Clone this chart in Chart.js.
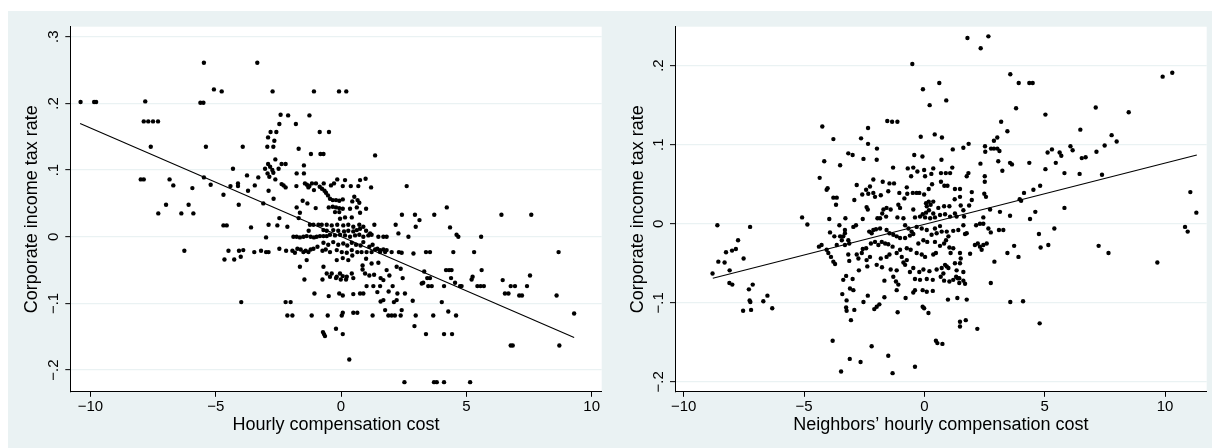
<!DOCTYPE html>
<html><head><meta charset="utf-8">
<script src="https://cdn.jsdelivr.net/npm/chart.js@4.4.1/dist/chart.umd.min.js"></script>
<style>
html,body{margin:0;padding:0;background:#fff;}
#wrap{position:relative;width:1212px;height:448px;overflow:hidden;}
#bg{position:absolute;left:8px;top:11px;width:1204px;height:437px;background:#EAF2F3;}
canvas{position:absolute;top:0;}
#c1{left:0}
#c2{left:606px}
</style></head><body>
<div id="wrap"><div id="bg"></div>
<canvas id="c1" width="606" height="448"></canvas>
<canvas id="c2" width="606" height="448"></canvas>
</div>
<script>
// ---------- Left panel: own hourly compensation cost vs corporate income tax rate ----------
const leftCost = [-5.47,-3.34,-5.07,-4.76,-2.73,-1.08,-10.39,-9.85,-9.77,-7.81,
-5.61,-5.49,-7.87,-7.69,-7.50,-7.30,-2.41,-2.11,-1.80,-1.26,
-2.46,-2.81,-2.58,-0.85,-0.48,-2.91,-2.66,-5.39,-7.59,-3.92,
-2.94,-2.70,-1.69,-1.20,-0.82,-0.70,-2.62,-2.91,-2.37,-2.21,
-4.31,-3.03,-2.83,-2.74,-2.49,-1.48,-1.77,-1.48,-2.93,-2.86,
-3.75,-3.30,-2.70,-7.99,-7.87,-6.84,-5.47,-2.62,-6.69,-5.93,
-5.20,-4.41,-4.11,-4.11,-3.44,-3.71,-4.69,-2.37,-2.29,-2.21,
-2.89,-2.69,-1.78,-1.44,-1.36,-1.26,-1.16,-1.00,-1.30,-0.69,
-0.85,-0.76,-0.66,-0.60,-0.52,-1.08,-1.01,-1.53,-1.34,-1.77,
-1.64,-3.10,-4.08,-6.98,-6.08,-7.29,-6.37,-5.89,-0.49,-1.69,
-2.46,-4.69,-4.56,-3.59,-2.89,-2.54,-2.14,-1.24,-1.10,-0.90,
-0.77,-0.57,-1.29,-0.70,-0.57,-2.99,-1.90,-1.77,-1.64,-1.50,
-1.37,-1.21,-1.08,-0.97,-0.84,-0.70,-0.57,-6.25,-4.49,-4.07,
-3.90,-3.46,-3.19,-2.99,-2.89,-2.46,-2.19,-1.94,-1.84,-1.74,
-1.61,-1.50,-1.41,-1.30,-1.21,-1.10,-0.94,-0.74,-0.61,-4.65,
-4.26,-4.00,-1.37,-1.64,-0.70,-0.57,-1.46,-0.74,-1.06,-0.49,
-3.98,-2.21,-2.01,-2.14,-1.94,-1.17,-0.53,-0.72,-0.68,-0.64,
-0.08,0.21,1.36,2.62,4.22,-0.15,0.16,0.76,0.98,-0.40,
-0.28,0.07,0.39,0.69,1.20,-0.44,-0.33,-0.20,-0.07,0.07,
0.53,0.45,0.66,0.73,-0.33,-0.20,-0.07,0.07,0.36,0.63,
0.76,1.00,-0.24,-0.07,2.43,2.95,3.72,6.40,7.59,-0.04,
0.16,0.43,-0.37,-0.15,0.09,0.29,0.49,0.73,0.89,1.33,
2.18,-0.31,-0.11,0.12,0.29,0.49,0.63,0.76,1.00,1.16,
-0.44,-0.24,-0.04,0.16,0.36,0.56,0.73,0.89,1.09,1.22,
1.49,1.69,1.82,2.29,2.69,3.13,2.98,4.35,4.61,4.68,
5.59,-0.70,-0.51,-0.31,-0.11,0.09,0.25,0.43,0.60,0.78,
0.89,1.13,1.26,1.45,1.56,1.69,1.82,2.02,-0.44,-0.17,
0.03,0.23,0.43,0.65,0.82,1.02,1.22,1.36,1.56,1.76,
2.31,2.42,2.89,3.39,3.55,4.48,5.31,8.68,-0.17,0.07,
0.29,0.45,0.86,1.00,1.22,1.49,-0.37,-0.17,-0.04,0.07,
0.23,0.43,0.86,0.96,1.13,1.32,-0.44,-0.20,-0.01,0.20,
0.49,1.82,1.93,1.58,1.69,2.22,2.38,2.46,1.02,1.29,
1.56,2.06,3.32,3.44,3.55,3.22,3.28,3.48,3.62,4.19,
4.31,4.41,4.39,4.55,4.75,4.81,4.11,5.25,5.21,5.61,
5.44,5.57,5.70,6.45,6.77,6.94,7.42,7.54,6.54,6.68,
7.11,7.22,8.60,-0.07,0.07,0.49,0.76,0.89,1.45,1.58,
1.69,1.90,2.11,2.22,2.25,2.55,2.86,4.02,1.76,1.89,
2.02,2.15,2.38,2.42,0.03,0.07,0.49,0.65,1.26,2.98,
3.68,4.28,4.59,9.30,-0.20,0.07,2.93,3.39,4.11,4.43,
6.77,6.85,8.71,0.33,2.53,3.71,3.82,4.11,5.15];
const leftTax = [0.261,0.261,0.221,0.218,0.218,0.218,0.202,0.202,0.202,0.203,
0.201,0.201,0.173,0.173,0.173,0.173,0.183,0.182,0.169,0.182,
0.169,0.157,0.157,0.157,0.157,0.149,0.144,0.135,0.135,0.135,
0.135,0.135,0.132,0.124,0.124,0.124,0.116,0.109,0.109,0.109,
0.102,0.102,0.105,0.100,0.102,0.107,0.095,0.095,0.095,0.090,
0.092,0.089,0.096,0.086,0.086,0.086,0.089,0.086,0.077,0.073,
0.078,0.076,0.080,0.076,0.077,0.069,0.063,0.079,0.077,0.074,
0.069,0.057,0.076,0.080,0.078,0.076,0.080,0.080,0.074,0.080,
0.075,0.072,0.069,0.066,0.062,0.070,0.043,0.054,0.050,0.044,
0.036,0.050,0.048,0.048,0.048,0.035,0.035,0.035,0.044,0.028,
0.028,0.017,0.017,0.014,0.018,0.017,0.015,0.018,0.018,0.018,
0.018,0.018,0.009,0.010,0.009,-0.001,0,0,-0.001,0,
0.001,0,-0.001,0,0.001,0.001,0.001,-0.021,-0.021,-0.021,
-0.020,-0.023,-0.021,-0.023,-0.023,-0.018,-0.021,-0.021,-0.024,-0.018,
-0.019,-0.023,-0.021,-0.023,-0.019,-0.018,-0.015,-0.021,-0.019,-0.034,
-0.034,-0.030,-0.035,-0.045,-0.045,-0.055,-0.064,-0.064,-0.085,-0.089,
-0.098,-0.098,-0.098,-0.118,-0.118,-0.118,-0.118,-0.143,-0.146,-0.149,
0.218,0.218,0.122,0.076,0.044,0.086,0.085,0.085,0.087,0.077,
0.080,0.076,0.076,0.076,0.074,0.057,0.055,0.055,0.054,0.056,
0.060,0.053,0.055,0.051,0.045,0.044,0.043,0.042,0.042,0.044,
0.036,0.042,0.037,0.037,0.033,0.033,0.033,0.033,0.033,0.027,
0.029,0.029,0.017,0.018,0.017,0.018,0.015,0.018,0.015,0.018,
0.018,0.010,0.009,0.008,0.009,0.008,0.010,0.012,0.009,0.005,
0.003,0.002,0.003,0.002,0,0.002,0.003,0,0.002,0.003,
0,0,0,0.005,0,0.025,0.015,0.014,0.003,0,
0,-0.009,-0.012,-0.008,-0.012,-0.010,-0.013,-0.009,-0.012,-0.013,
-0.008,-0.015,-0.012,-0.018,-0.020,-0.019,-0.020,-0.023,-0.023,-0.020,
-0.023,-0.024,-0.020,-0.023,-0.023,-0.023,-0.023,-0.019,-0.023,-0.023,
-0.023,-0.024,-0.025,-0.023,-0.023,-0.023,-0.023,-0.023,-0.035,-0.032,
-0.035,-0.028,-0.043,-0.033,-0.040,-0.039,-0.055,-0.060,-0.055,-0.059,
-0.060,-0.055,-0.049,-0.055,-0.058,-0.057,-0.060,-0.062,-0.064,-0.064,
-0.062,-0.050,-0.058,-0.062,-0.065,-0.045,-0.048,-0.062,-0.074,-0.074,
-0.074,-0.074,-0.052,-0.062,-0.062,-0.070,-0.069,-0.074,-0.074,-0.050,
-0.050,-0.050,-0.062,-0.069,-0.074,-0.074,-0.074,-0.060,-0.064,-0.050,
-0.074,-0.074,-0.074,-0.065,-0.074,-0.074,-0.074,-0.058,-0.085,-0.085,
-0.088,-0.088,-0.088,-0.085,-0.088,-0.086,-0.085,-0.085,-0.083,-0.097,
-0.095,-0.082,-0.098,-0.095,-0.085,-0.085,-0.096,-0.098,-0.110,-0.118,
-0.118,-0.118,-0.118,-0.110,-0.118,-0.114,-0.114,-0.114,-0.118,-0.118,
-0.118,-0.112,-0.118,-0.115,-0.138,-0.146,-0.134,-0.146,-0.146,-0.146,
-0.163,-0.163,-0.163,-0.184,-0.218,-0.218,-0.218,-0.218,-0.218];
const leftFitCost = [-10.41, 9.30];
const leftFitTax = [0.170, -0.151];

// ---------- Right panel: neighbors' hourly compensation cost vs corporate income tax rate ----------
const rightCost = [-0.50,-0.06,0.22,-1.54,-1.34,-1.12,-4.24,-2.34,-2.63,-3.78,
-0.15,-2.34,-1.97,-3.16,-2.98,-4.16,-3.50,-2.53,-1.98,-0.42,
-0.08,-1.30,-0.69,-0.46,-0.01,-0.29,-0.55,0.03,-4.35,-2.12,
-1.73,-1.45,-1.26,-2.81,-2.26,-2.42,-4.02,-4.06,-1.50,-1.04,
-0.73,-2.58,-2.33,-2.12,-2.05,-1.81,-0.71,-0.48,-0.32,-0.21,
-0.01,0.18,-3.78,-3.64,-2.91,-3.67,-0.83,-2.40,-2.35,-1.70,
-1.57,-1.75,-1.40,-1.08,-1.01,-0.46,0.07,0.10,0.18,-0.07,
0.07,-5.08,-3.95,-3.28,-2.56,-1.95,-1.84,-1.59,-1.12,-0.87,
-0.39,1.79,2.66,2.34,3.57,3.92,4.36,4.50,9.90,10.30,
0.62,0.91,3.81,5.03,7.12,8.49,0.43,0.73,3.19,3.45,
3.03,2.89,6.48,7.78,7.99,7.49,7.15,6.07,6.16,6.54,
6.70,5.12,5.30,5.62,5.69,5.46,5.03,5.82,6.45,7.38,
4.36,3.56,3.64,3.07,3.24,2.52,2.53,2.77,2.89,3.03,
3.12,1.18,1.62,1.84,0.71,2.33,0.37,1.16,0.29,0.69,
0.89,1.07,1.76,1.83,2.51,2.51,0.69,0.83,0.96,0.32,
1.27,1.48,1.97,1.97,2.49,2.56,3.96,4.02,4.14,4.53,
4.81,5.82,11.05,11.30,1.26,1.48,1.86,1.51,1.62,0.26,
0.37,0.58,0.82,1.04,0.19,0.37,0.65,0.86,1.07,1.27,
1.34,1.65,2.73,3.14,3.56,4.61,4.39,2.45,-0.18,0.03,
0.24,0.44,-8.60,-7.24,-7.74,-7.83,-7.99,-8.24,-8.56,-8.30,
-7.51,-8.09,-8.80,-8.10,-7.98,-7.13,-7.29,-7.26,-7.23,-6.69,
-6.52,-7.53,-7.20,-6.32,-4.86,-4.38,-4.27,-4.06,-3.99,-3.88,
-3.78,-3.71,-3.92,-3.74,-3.64,-3.50,-3.37,-3.43,-3.30,-3.16,
-3.12,-3.30,-3.53,-3.30,-2.95,-2.84,-3.16,-3.12,-2.81,-2.74,
-2.60,-2.72,-2.95,-3.09,-3.25,-3.37,-2.98,-3.41,-3.23,-3.25,
-3.23,-2.91,-3.05,-2.53,-2.35,-2.08,-1.98,-1.87,-1.66,-1.66,
-2.40,-2.37,-2.26,-2.56,-2.42,-2.22,-2.05,-1.91,-2.29,-2.19,
-2.12,-2.01,-1.84,-1.57,-1.45,-1.77,-1.63,-1.50,-1.32,-1.81,
-1.57,-1.45,-1.76,-1.40,-1.15,-1.29,-1.18,-1.08,-1.15,-1.50,
-1.11,-0.78,-1.32,-2.19,-2.65,-3.10,-3.46,-3.81,-0.39,-0.46,
-0.39,-0.07,0.10,-0.07,-0.01,0.17,-0.87,-0.80,-0.73,-0.60,
-0.46,-0.21,-0.04,-0.39,-0.18,0.10,-1.01,-0.94,-1.15,-0.73,
-0.57,-0.32,-0.11,0.03,-1.29,-1.15,-1.01,-0.80,-0.60,-0.46,
-0.80,-0.66,-0.53,-0.32,-0.11,0.10,-0.25,-0.04,0.12,-1.98,
10.83,10.94,9.68,7.24,7.65,5.40,5.15,4.76,4.83,4.79,
3.57,4.10,3.73,3.91,3.45,2.91,2.76,3.10,3.28,2.76,
2.66,2.45,2.31,2.15,2.10,2.22,2.31,2.45,2.59,2.38,
1.90,1.69,1.76,1.48,1.51,1.48,1.27,1.34,1.39,1.45,
1.62,1.69,1.76,1.37,0.98,1.48,1.72,1.48,2.20,0.48,
0.54,0.75,0.35,0.82,1.04,1.20,1.32,1.45,0.68,0.79,
0.93,0.86,1.00,0.35,0.21,0.51,0.72,0.37,0.48,1.09,
1.04,1.20,0.65,0.82,0.90,1.00,0.44,0.30,0.51,0.72,
0.44,0.65,0.93,1.20,1.41,1.62,1.62];
const rightTax = [0.202,0.170,0.150,0.130,0.129,0.129,0.123,0.121,0.108,0.107,
0.110,0.101,0.095,0.089,0.087,0.079,0.074,0.082,0.081,0.087,
0.085,0.071,0.070,0.071,0.068,0.066,0.060,0.060,0.058,0.056,
0.053,0.051,0.051,0.049,0.047,0.043,0.045,0.043,0.041,0.039,
0.046,0.037,0.038,0.039,0.034,0.036,0.038,0.039,0.039,0.039,
0.037,0.044,0.033,0.033,0.030,0.024,0.032,0.021,0.018,0.018,
0.020,0.013,0.018,0.024,0.020,0.018,0.026,0.022,0.028,0.012,
0.014,0.008,0.006,0.007,0.006,0.007,0.007,0.009,0.008,0.007,
0.008,0.235,0.237,0.222,0.189,0.178,0.178,0.178,0.186,0.191,
0.178,0.156,0.146,0.138,0.147,0.141,0.113,0.109,0.129,0.117,
0.109,0.105,0.119,0.112,0.104,0.099,0.091,0.098,0.093,0.083,
0.084,0.090,0.094,0.090,0.086,0.077,0.069,0.064,0.063,0.062,
0.077,0.077,0.075,0.079,0.067,0.098,0.091,0.095,0.095,0.095,
0.092,0.094,0.096,0.101,0.081,0.076,0.070,0.071,0.063,0.064,
0.064,0.064,0.060,0.064,0.060,0.053,0.053,0.048,0.048,0.050,
0.044,0.044,0.040,0.030,0.038,0.034,0.031,0.029,0.039,0.043,
0.048,0.020,0.040,0.014,0.031,0.034,0.023,0.023,0.017,0.024,
0.028,0.020,0.022,0.022,0.017,0.013,0.011,0.012,0.009,0.013,
0.009,0.009,0.018,0.015,0.010,0.015,0.006,0.008,0.009,0.008,
0.007,0.008,-0.002,-0.004,-0.021,-0.032,-0.034,-0.036,-0.048,-0.049,
-0.044,-0.059,-0.063,-0.075,-0.077,-0.077,-0.083,-0.097,-0.099,-0.098,
-0.091,-0.110,-0.109,-0.107,-0.001,-0.029,-0.027,-0.033,-0.037,-0.042,
-0.048,-0.051,-0.011,-0.016,-0.027,-0.016,-0.016,-0.021,-0.012,-0.021,
-0.025,-0.027,-0.002,-0.008,-0.004,-0.002,-0.039,-0.047,-0.039,-0.044,
-0.037,-0.059,-0.084,-0.082,-0.066,-0.071,-0.070,-0.089,-0.097,-0.106,
-0.110,-0.109,-0.122,-0.099,-0.091,-0.108,-0.105,-0.102,-0.093,-0.072,
-0.046,-0.054,-0.042,-0.032,-0.031,-0.025,-0.023,-0.027,-0.010,-0.012,
-0.008,-0.007,-0.006,-0.008,-0.012,-0.023,-0.025,-0.026,-0.029,-0.044,
-0.042,-0.039,-0.055,-0.058,-0.059,-0.067,-0.073,-0.077,-0.084,-0.167,
-0.112,-0.094,-0.189,-0.155,-0.175,-0.171,-0.187,-0.148,-0.181,-0.087,
-0.084,-0.084,-0.086,-0.105,-0.107,-0.113,-0.049,-0.052,-0.046,-0.061,
-0.056,-0.061,-0.058,-0.070,-0.071,-0.070,-0.033,-0.042,-0.037,-0.031,
-0.033,-0.037,-0.039,-0.042,-0.014,-0.016,-0.018,-0.018,-0.015,-0.013,
-0.002,-0.006,-0.010,-0.004,-0.006,-0.008,-0.025,-0.021,-0.023,-0.052,
-0.004,-0.010,-0.049,-0.028,-0.037,-0.006,-0.027,-0.013,-0.030,-0.126,
-0.099,-0.098,-0.028,-0.042,-0.037,-0.048,-0.075,-0.008,-0.008,-0.011,
-0.006,0.000,0.000,-0.002,-0.027,-0.025,-0.029,-0.027,-0.025,-0.033,
-0.038,-0.013,-0.012,-0.037,-0.044,-0.050,-0.050,-0.059,-0.069,-0.075,
-0.072,-0.076,-0.096,-0.094,-0.096,-0.124,-0.122,-0.130,-0.133,-0.148,
-0.151,-0.152,-0.085,-0.072,-0.073,-0.071,-0.067,-0.069,-0.067,-0.063,
-0.054,-0.052,-0.056,-0.071,-0.060,-0.058,-0.056,-0.039,-0.037,-0.037,
-0.030,-0.031,-0.028,-0.025,-0.021,-0.016,-0.023,-0.014,-0.012,-0.010,
-0.006,-0.003,-0.010,-0.009,-0.008,-0.002,-0.061];
const rightFitCost = [-8.79, 11.32];
const rightFitTax = [-0.069, 0.087];

// ---------- Ticks and titles ----------
const xTickValues = [-10, -5, 0, 5, 10];
const xTickLabels = ['\u221210', '\u22125', '0', '5', '10'];
const leftYTickValues = [-0.2, -0.1, 0, 0.1, 0.2, 0.3];
const leftYTickLabels = ['\u2212.2', '\u2212.1', '0', '.1', '.2', '.3'];
const rightYTickValues = [-0.2, -0.1, 0, 0.1, 0.2];
const rightYTickLabels = ['\u2212.2', '\u2212.1', '0', '.1', '.2'];
const yTitle = 'Corporate income tax rate';
const leftXTitle = 'Hourly compensation cost';
const rightXTitle = 'Neighbors\u2019 hourly compensation cost';

const FONT = "'Liberation Sans', Arial, Helvetica, sans-serif";
const INK = '#000000';
const GRID = '#EAF2F3';

const plotBg = {
  id: 'plotBg',
  beforeDraw(chart) {
    const { ctx, chartArea: a } = chart;
    ctx.save();
    ctx.fillStyle = '#ffffff';
    ctx.fillRect(a.left, a.top, a.right - a.left, a.bottom - a.top);
    ctx.restore();
  }
};

function toPoints(xs, ys) {
  const n = Math.min(xs.length, ys.length);
  const out = [];
  for (let i = 0; i < n; i++) out.push({ x: xs[i], y: ys[i] });
  return out;
}

function build(id, o) {
  new Chart(document.getElementById(id), {
    type: 'scatter',
    data: {
      datasets: [
        { data: toPoints(o.fitX, o.fitY), showLine: true, borderColor: INK, borderWidth: 1.1,
          pointRadius: 0, pointHoverRadius: 0, fill: false },
        { data: toPoints(o.xs, o.ys), pointRadius: 2.2, pointHoverRadius: 2.2,
          pointBackgroundColor: INK, pointBorderWidth: 0, borderWidth: 0, showLine: false }
      ]
    },
    options: {
      responsive: false, animation: false, devicePixelRatio: 1,
      events: [],
      layout: { padding: { left: 0, top: 26.7, right: o.padRight, bottom: 0 } },
      plugins: { legend: { display: false }, tooltip: { enabled: false } },
      scales: {
        x: {
          type: 'linear', position: 'bottom', min: o.xMin, max: o.xMax,
          afterFit(s) { s.height = 448 - 391.8; },
          afterBuildTicks(s) { s.ticks = xTickValues.map(v => ({ value: v })); },
          ticks: {
            callback: v => xTickLabels[xTickValues.indexOf(v)],
            font: { family: FONT, size: 15 }, color: INK, padding: 1.5,
            autoSkip: false, maxRotation: 0, minRotation: 0
          },
          grid: { drawOnChartArea: false, drawTicks: true, tickLength: 5, tickColor: INK, tickWidth: 1 },
          border: { display: true, color: INK, width: 1 },
          title: { display: true, text: o.xTitle, color: INK,
                   font: { family: FONT, size: 18 }, padding: { top: 0, bottom: 12 } }
        },
        y: {
          type: 'linear', position: 'left', min: o.yMin, max: o.yMax,
          afterFit(s) { s.width = o.axisLeft; },
          afterBuildTicks(s) { s.ticks = o.yTicks.map(v => ({ value: v })); },
          ticks: {
            callback: v => o.yLabels[o.yTicks.indexOf(v)],
            font: { family: FONT, size: 15 }, color: INK, padding: 0.8,
            minRotation: 90, maxRotation: 90, crossAlign: 'center', autoSkip: false
          },
          grid: { drawOnChartArea: true, color: GRID, lineWidth: 1.3, drawTicks: true,
                  tickLength: 5, tickColor: INK, tickWidth: 1 },
          border: { display: true, color: INK, width: 1 },
          title: { display: true, text: yTitle, color: INK,
                   font: { family: FONT, size: 18 }, padding: { top: 21.5, bottom: 0 } }
        }
      }
    },
    plugins: [plotBg]
  });
}

build('c1', {
  xs: leftCost, ys: leftTax, fitX: leftFitCost, fitY: leftFitTax,
  xMin: -10.80, xMax: 10.40, yMin: -0.2325, yMax: 0.315,
  yTicks: leftYTickValues, yLabels: leftYTickLabels,
  xTitle: leftXTitle, axisLeft: 70.3, padRight: 4.3
});
build('c2', {
  xs: rightCost, ys: rightTax, fitX: rightFitCost, fitY: rightFitTax,
  xMin: -10.36, xMax: 11.73, yMin: -0.2126, yMax: 0.2492,
  yTicks: rightYTickValues, yLabels: rightYTickLabels,
  xTitle: rightXTitle, axisLeft: 69, padRight: 5.3
});
</script>
</body></html>
